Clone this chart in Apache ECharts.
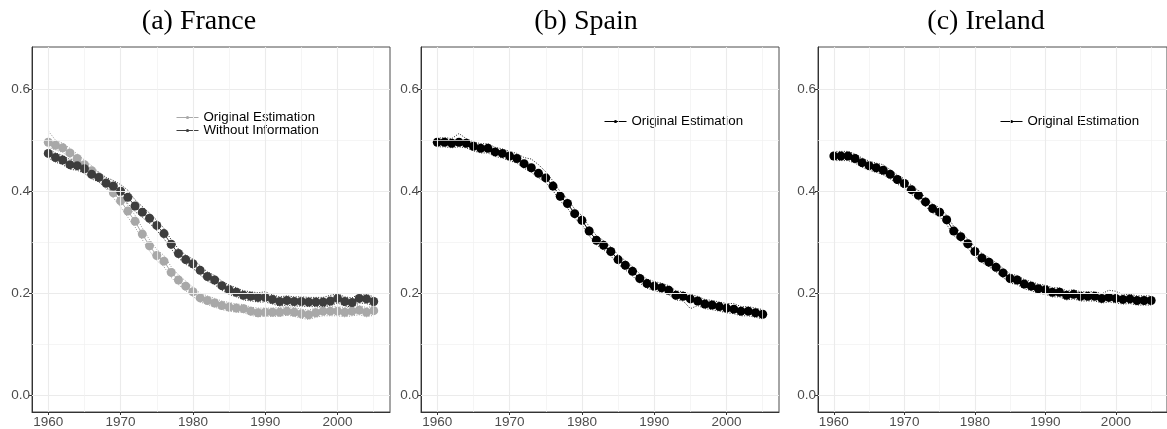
<!DOCTYPE html>
<html>
<head>
<meta charset="utf-8">
<script src="https://cdn.jsdelivr.net/npm/echarts@6/dist/echarts.min.js"></script>
<style>
  html, body { margin: 0; padding: 0; background: #fff; }
  #chart { width: 1167px; height: 429px; }
</style>
</head>
<body>
<div id="chart"></div>
<script>
// years on the x axis
var years = [1960, 1961, 1962, 1963, 1964, 1965, 1966, 1967, 1968, 1969,
  1970, 1971, 1972, 1973, 1974, 1975, 1976, 1977, 1978, 1979,
  1980, 1981, 1982, 1983, 1984, 1985, 1986, 1987, 1988, 1989,
  1990, 1991, 1992, 1993, 1994, 1995, 1996, 1997, 1998, 1999,
  2000, 2001, 2002, 2003, 2004, 2005];

// (a) France - original estimation
var franceOrig = [0.496, 0.490, 0.485, 0.475, 0.464, 0.452, 0.440, 0.428, 0.415, 0.397,
  0.381, 0.361, 0.341, 0.316, 0.293, 0.274, 0.263, 0.241, 0.226, 0.214,
  0.203, 0.191, 0.186, 0.181, 0.176, 0.173, 0.171, 0.170, 0.165, 0.162,
  0.163, 0.163, 0.163, 0.165, 0.163, 0.160, 0.158, 0.162, 0.165, 0.165,
  0.165, 0.163, 0.165, 0.167, 0.163, 0.166];
var franceOrigHi = [0.518, 0.500, 0.494, 0.484, 0.473, 0.461, 0.450, 0.437, 0.425, 0.407,
  0.392, 0.372, 0.353, 0.328, 0.305, 0.286, 0.274, 0.252, 0.236, 0.224,
  0.212, 0.200, 0.195, 0.190, 0.185, 0.182, 0.179, 0.178, 0.173, 0.171,
  0.171, 0.171, 0.172, 0.174, 0.172, 0.169, 0.167, 0.171, 0.174, 0.175,
  0.174, 0.172, 0.174, 0.176, 0.172, 0.175];
var franceOrigLo = [0.486, 0.481, 0.476, 0.466, 0.455, 0.443, 0.430, 0.418, 0.405, 0.387,
  0.369, 0.349, 0.330, 0.305, 0.283, 0.264, 0.252, 0.231, 0.217, 0.205,
  0.194, 0.183, 0.178, 0.173, 0.168, 0.165, 0.163, 0.162, 0.157, 0.154,
  0.155, 0.155, 0.155, 0.157, 0.155, 0.151, 0.149, 0.153, 0.156, 0.156,
  0.156, 0.154, 0.156, 0.158, 0.154, 0.157];

// (a) France - without information
var franceNoInfo = [0.474, 0.466, 0.461, 0.452, 0.450, 0.444, 0.433, 0.427, 0.416, 0.410,
  0.400, 0.388, 0.371, 0.359, 0.347, 0.333, 0.317, 0.296, 0.278, 0.266,
  0.258, 0.245, 0.233, 0.226, 0.215, 0.207, 0.202, 0.196, 0.194, 0.192,
  0.192, 0.188, 0.184, 0.186, 0.184, 0.184, 0.183, 0.183, 0.183, 0.185,
  0.190, 0.184, 0.182, 0.190, 0.189, 0.184];
var franceNoInfoHi = [0.483, 0.475, 0.470, 0.462, 0.460, 0.454, 0.443, 0.437, 0.427, 0.421,
  0.413, 0.402, 0.383, 0.370, 0.357, 0.343, 0.327, 0.305, 0.287, 0.275,
  0.267, 0.254, 0.242, 0.235, 0.224, 0.216, 0.211, 0.205, 0.203, 0.201,
  0.203, 0.197, 0.193, 0.195, 0.193, 0.193, 0.192, 0.192, 0.192, 0.196,
  0.199, 0.193, 0.191, 0.199, 0.198, 0.193];
var franceNoInfoLo = [0.465, 0.457, 0.452, 0.443, 0.441, 0.435, 0.424, 0.418, 0.406, 0.400,
  0.389, 0.376, 0.360, 0.349, 0.337, 0.323, 0.307, 0.287, 0.269, 0.257,
  0.249, 0.236, 0.224, 0.217, 0.206, 0.198, 0.193, 0.187, 0.185, 0.183,
  0.183, 0.179, 0.175, 0.177, 0.175, 0.175, 0.174, 0.174, 0.174, 0.176,
  0.181, 0.175, 0.173, 0.181, 0.180, 0.175];

// (b) Spain
var spain = [0.496, 0.496, 0.494, 0.496, 0.494, 0.488, 0.484, 0.484, 0.477, 0.474,
  0.469, 0.464, 0.454, 0.446, 0.435, 0.426, 0.410, 0.390, 0.376, 0.356,
  0.343, 0.322, 0.304, 0.294, 0.282, 0.266, 0.255, 0.243, 0.229, 0.219,
  0.214, 0.211, 0.206, 0.196, 0.194, 0.189, 0.185, 0.179, 0.177, 0.174,
  0.171, 0.169, 0.165, 0.165, 0.162, 0.159];
var spainHi = [0.504, 0.505, 0.503, 0.513, 0.503, 0.497, 0.493, 0.493, 0.486, 0.483,
  0.478, 0.474, 0.466, 0.463, 0.452, 0.438, 0.420, 0.399, 0.385, 0.365,
  0.352, 0.331, 0.313, 0.303, 0.291, 0.275, 0.264, 0.252, 0.238, 0.228,
  0.223, 0.220, 0.215, 0.205, 0.203, 0.198, 0.194, 0.188, 0.186, 0.183,
  0.180, 0.180, 0.174, 0.174, 0.171, 0.168];
var spainLo = [0.487, 0.487, 0.485, 0.487, 0.485, 0.479, 0.475, 0.475, 0.468, 0.465,
  0.460, 0.455, 0.445, 0.437, 0.426, 0.417, 0.401, 0.381, 0.367, 0.347,
  0.334, 0.313, 0.295, 0.285, 0.273, 0.257, 0.246, 0.234, 0.220, 0.210,
  0.205, 0.202, 0.197, 0.187, 0.185, 0.170, 0.176, 0.170, 0.168, 0.165,
  0.162, 0.160, 0.156, 0.156, 0.153, 0.150];

// (c) Ireland
var ireland = [0.469, 0.469, 0.469, 0.464, 0.456, 0.450, 0.446, 0.441, 0.433, 0.423,
  0.415, 0.403, 0.392, 0.379, 0.366, 0.359, 0.344, 0.322, 0.311, 0.297,
  0.282, 0.269, 0.261, 0.251, 0.240, 0.229, 0.226, 0.218, 0.214, 0.209,
  0.207, 0.202, 0.202, 0.196, 0.198, 0.194, 0.194, 0.194, 0.190, 0.192,
  0.190, 0.188, 0.189, 0.186, 0.186, 0.186];
var irelandHi = [0.478, 0.478, 0.478, 0.473, 0.465, 0.459, 0.455, 0.452, 0.442, 0.432,
  0.424, 0.412, 0.401, 0.388, 0.375, 0.368, 0.353, 0.331, 0.320, 0.306,
  0.291, 0.278, 0.270, 0.260, 0.249, 0.238, 0.235, 0.227, 0.223, 0.218,
  0.216, 0.211, 0.211, 0.205, 0.207, 0.203, 0.203, 0.203, 0.199, 0.206,
  0.204, 0.197, 0.198, 0.195, 0.195, 0.195];
var irelandLo = [0.460, 0.460, 0.460, 0.455, 0.447, 0.441, 0.437, 0.432, 0.424, 0.414,
  0.406, 0.394, 0.383, 0.370, 0.357, 0.350, 0.335, 0.313, 0.302, 0.288,
  0.273, 0.260, 0.252, 0.242, 0.231, 0.220, 0.217, 0.209, 0.205, 0.200,
  0.198, 0.193, 0.193, 0.187, 0.189, 0.185, 0.185, 0.185, 0.181, 0.183,
  0.181, 0.179, 0.180, 0.177, 0.177, 0.177];

// ticks and grid lines
var yTicks = [0, 0.2, 0.4, 0.6];
var yMinor = [0.1, 0.3, 0.5];
var xTicks = [1960, 1970, 1980, 1990, 2000];
var xMinor = [1965, 1975, 1985, 1995, 2005];
var titles = ['(a) France', '(b) Spain', '(c) Ireland'];

var panels = [
  { left: 32, titleX: 194, legendLeft: 176, legendTop: 111 },
  { left: 421, titleX: 581, legendLeft: 604, legendTop: 115 },
  { left: 818, titleX: 981, legendLeft: 1000, legendTop: 115 }
];

function pairs(vals) {
  return years.map(function (y, i) { return [y, vals[i]]; });
}

var myChart = echarts.init(document.getElementById('chart'));

var grids = [], xAxes = [], yAxes = [], titleOpts = [], series = [];

panels.forEach(function (p, i) {
  grids.push({
    left: p.left, top: 47, width: 358, height: 365,
    show: true, borderColor: '#4d4d4d', borderWidth: 1, backgroundColor: '#fff'
  });
  xAxes.push({
    type: 'value', gridIndex: i, min: 1957.75, max: 2007.25,
    axisLine: { show: true, onZero: false, lineStyle: { color: '#333', width: 1 } },
    axisTick: { show: true, length: 3, customValues: xTicks, lineStyle: { color: '#333' } },
    axisLabel: { customValues: xTicks, color: '#4d4d4d', fontSize: 13.5, margin: 3,
      fontFamily: 'Liberation Sans', formatter: function (v) { return String(v); } },
    splitLine: { show: false }
  });
  yAxes.push({
    type: 'value', gridIndex: i, min: -0.0325, max: 0.6825,
    axisLine: { show: true, onZero: false, lineStyle: { color: '#333', width: 1 } },
    axisTick: { show: true, length: 3, customValues: yTicks, lineStyle: { color: '#333' } },
    axisLabel: { customValues: yTicks, color: '#4d4d4d', fontSize: 13.5, margin: 2,
      fontFamily: 'Liberation Sans', formatter: function (v) { return v.toFixed(1); } },
    splitLine: { show: false }
  });
  titleOpts.push({
    text: titles[i], left: p.titleX, top: 3, textAlign: 'center',
    textStyle: { fontFamily: 'Liberation Serif', fontWeight: 'normal', fontSize: 28, color: '#000' }
  });

  // grid lines, placed through the axis scales
  var lines = [];
  yTicks.forEach(function (v) { lines.push({ yAxis: v, lineStyle: { color: '#ebebeb', width: 1.1 } }); });
  yMinor.forEach(function (v) { lines.push({ yAxis: v, lineStyle: { color: '#f0f0f0', width: 0.7 } }); });
  xTicks.forEach(function (v) { lines.push({ xAxis: v, lineStyle: { color: '#ebebeb', width: 1.1 } }); });
  xMinor.forEach(function (v) { lines.push({ xAxis: v, lineStyle: { color: '#f0f0f0', width: 0.7 } }); });
  series.push({
    name: 'grid' + i, type: 'line', xAxisIndex: i, yAxisIndex: i, data: [],
    silent: true, z: 0,
    markLine: { silent: true, symbol: ['none', 'none'], label: { show: false }, animation: false,
      lineStyle: { type: 'solid' }, data: lines }
  });
});

function band(name, vals, idx, color) {
  return {
    name: name, type: 'line', xAxisIndex: idx, yAxisIndex: idx, data: pairs(vals),
    showSymbol: false, silent: true, z: 1,
    lineStyle: { color: color, width: 1, type: [1, 1.5] }
  };
}
function main(name, vals, idx, color) {
  return {
    name: name, type: 'line', xAxisIndex: idx, yAxisIndex: idx, data: pairs(vals),
    symbol: 'circle', symbolSize: 9, z: 3,
    itemStyle: { color: color, borderWidth: 0 },
    lineStyle: { color: color, width: 1 }
  };
}

series.push(band('fo-hi', franceOrigHi, 0, '#999'));
series.push(band('fo-lo', franceOrigLo, 0, '#999'));
series.push(main('Original Estimation', franceOrig, 0, '#a8a8a8'));
series.push(band('fn-hi', franceNoInfoHi, 0, '#222'));
series.push(band('fn-lo', franceNoInfoLo, 0, '#222'));
series.push(main('Without Information', franceNoInfo, 0, '#3d3d3d'));
series.push(band('es-hi', spainHi, 1, '#222'));
series.push(band('es-lo', spainLo, 1, '#222'));
series.push(main('Original Estimation', spain, 1, '#000'));
series.push(band('ie-hi', irelandHi, 2, '#222'));
series.push(band('ie-lo', irelandLo, 2, '#222'));
series.push(main('Original Estimation', ireland, 2, '#000'));

var legendText = { fontSize: 13.3, color: '#000', fontFamily: 'Liberation Sans', lineHeight: 12 };
function legendItem(name, color) {
  return { name: name, itemStyle: { color: color, borderWidth: 0 }, lineStyle: { color: color, width: 1 } };
}
var legends = [
  {
    left: panels[0].legendLeft, top: panels[0].legendTop, orient: 'vertical', padding: 0,
    itemWidth: 22, itemHeight: 4, itemGap: 0, textStyle: legendText, selectedMode: false,
    data: [legendItem('Original Estimation', '#a8a8a8'), legendItem('Without Information', '#3d3d3d')]
  },
  {
    left: panels[1].legendLeft, top: panels[1].legendTop, orient: 'vertical', padding: 0,
    itemWidth: 22, itemHeight: 4, textStyle: legendText, selectedMode: false,
    data: [legendItem('Original Estimation', '#000')]
  },
  {
    left: panels[2].legendLeft, top: panels[2].legendTop, orient: 'vertical', padding: 0,
    itemWidth: 22, itemHeight: 4, textStyle: legendText, selectedMode: false,
    data: [legendItem('Original Estimation', '#000')]
  }
];

myChart.setOption({
  animation: false,
  backgroundColor: '#fff',
  title: titleOpts,
  legend: legends,
  grid: grids,
  xAxis: xAxes,
  yAxis: yAxes,
  series: series
});
</script>
</body>
</html>
